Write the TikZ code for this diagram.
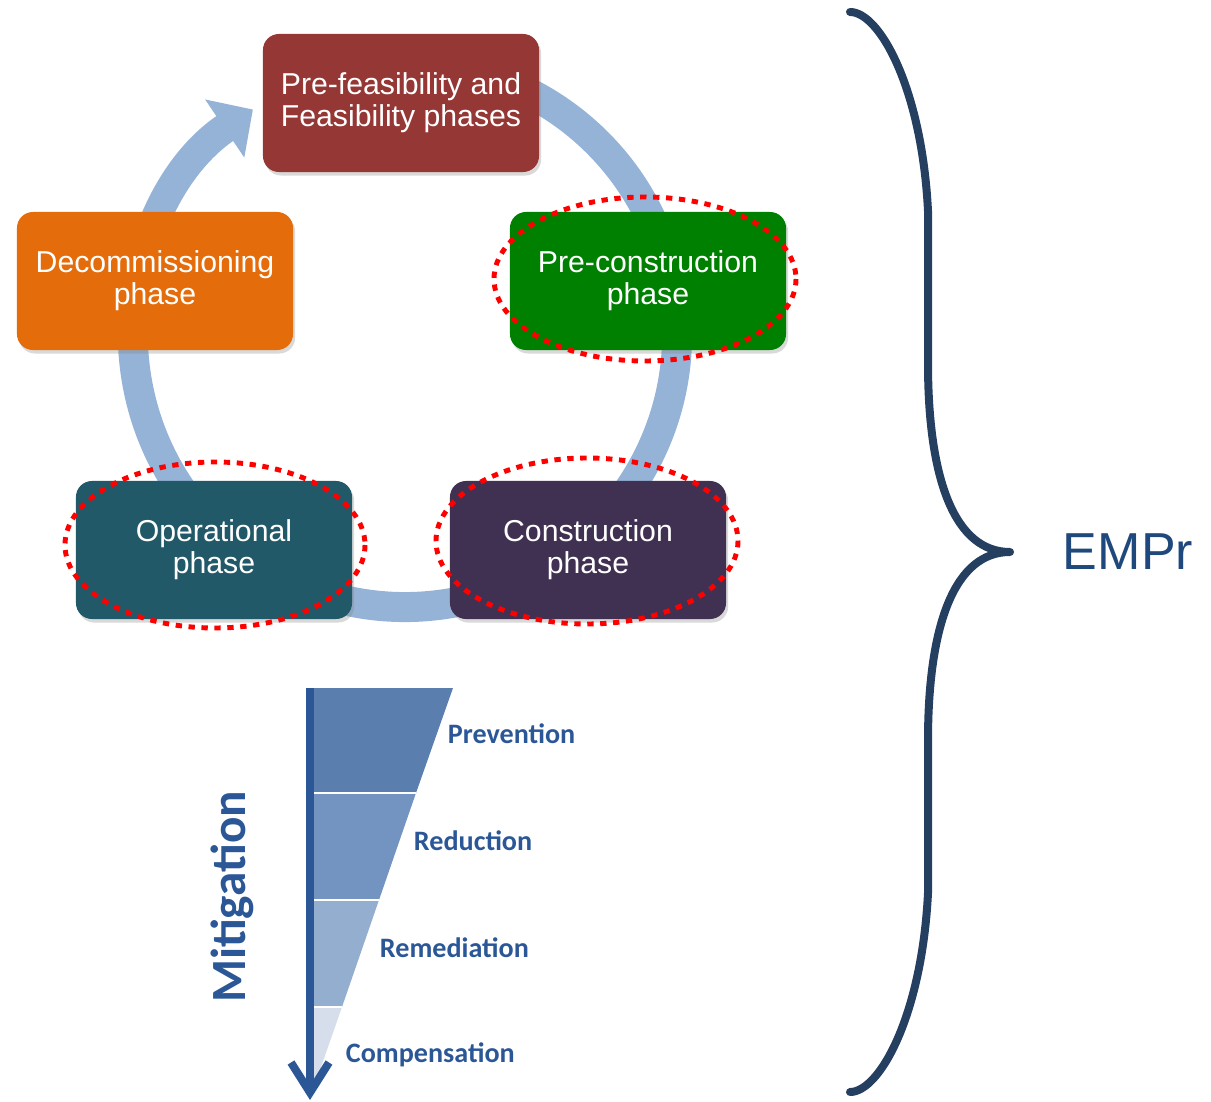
\documentclass[tikz,border=0pt]{standalone}
\usepackage{fontspec}
\setmainfont{Liberation Sans}
\newfontfamily\calibri{Carlito}
\usetikzlibrary{arrows.meta,shadows}

\definecolor{feasred}{HTML}{953735}
\definecolor{pcgreen}{HTML}{008000}
\definecolor{decorange}{HTML}{E46C0A}
\definecolor{opteal}{HTML}{215968}
\definecolor{conpurple}{HTML}{403152}
\definecolor{ringblue}{HTML}{95B3D7}
\definecolor{mitblue}{HTML}{2B5797}
\definecolor{bandA}{HTML}{5A7FAF}
\definecolor{bandB}{HTML}{7394C0}
\definecolor{bandC}{HTML}{94AED0}
\definecolor{bandD}{HTML}{D5DEEA}
\definecolor{bracenavy}{HTML}{243F60}
\definecolor{emprblue}{HTML}{1F497D}

\begin{document}
\begin{tikzpicture}[
  x=0.025cm, y=-0.025cm,
  phase/.style={rectangle, rounded corners=0.4cm, minimum width=6.9cm,
    minimum height=3.45cm, align=center, text=white,
    font=\fontsize{21.5}{22.8}\selectfont,
    drop shadow={opacity=0.3, shadow xshift=1.5pt, shadow yshift=-2.5pt}},
  redring/.style={draw=red, line width=3.5pt, dash pattern=on 4.5pt off 4.7pt},
  level/.style={anchor=west, text=mitblue, font=\calibri\bfseries\fontsize{20}{24}\selectfont},
  brace/.style={draw=bracenavy, line width=0.2cm, line cap=round, line join=round}
]

\useasboundingbox (0,0) rectangle (1211,1102);

% ==========================================================
% Ciclo de fases
% ==========================================================
\coordinate (ring) at (405,335);
\draw[ringblue, line width=0.75cm, -{Triangle[width=1.7cm,length=0.85cm]}]
  (ring) ++(255:272) arc[start angle=255, end angle=596, radius=272];

\node[phase, fill=feasred]   (feas)   at (401,103) {Pre-feasibility and\\Feasibility phases};
\node[phase, fill=pcgreen]   (precon) at (648,281) {Pre-construction\\phase};
\node[phase, fill=decorange] (decom)  at (155,281) {Decommissioning\\phase};
\node[phase, fill=opteal]    (oper)   at (214,550) {Operational\\phase};
\node[phase, fill=conpurple] (constr) at (588,550) {Construction\\phase};

% elipses pontilhadas
\draw[redring] (645,279) ellipse[x radius=151, y radius=82];
\draw[redring] (215,545) ellipse[x radius=150, y radius=83];
\draw[redring] (587,541) ellipse[x radius=151, y radius=83];

% ==========================================================
% Hierarquia de mitigacao
% ==========================================================
\fill[bandA] (312,688) -- (453,688) -- (416,793) -- (312,793) -- cycle;
\fill[bandB] (312,793) -- (416,793) -- (379,900) -- (312,900) -- cycle;
\fill[bandC] (312,900) -- (379,900) -- (342,1007) -- (312,1007) -- cycle;
\fill[bandD] (312,1007) -- (342,1007) -- (313,1090) -- (312,1090) -- cycle;
\foreach \y/\x in {793/416, 900/379, 1007/342}{
  \draw[white, line width=1.2pt] (312,\y) -- (\x,\y);
}

\coordinate (mtop) at (310,688);
\coordinate (mbot) at (310,1100);
\draw[mitblue, line width=0.2cm,
  -{Straight Barb[length=0.75cm, width=0.95cm, line width=0.2cm]}] (mtop) -- (mbot);

\node[rotate=90, text=mitblue, font=\calibri\bfseries\fontsize{35}{40}\selectfont]
  (mitig) at (232,897) {Mitigation};

\node[level] (prev) at (443,734)  {Prevention};
\node[level] (red)  at (409,841)  {Reduction};
\node[level] (rem)  at (375,948)  {Remediation};
\node[level] (comp) at (341,1055) {Compensation};

% ==========================================================
% Chave EMPr
% ==========================================================
\draw[brace] (850,12) .. controls (880,12) and (922,90) .. (928,211)
  -- (928,363) .. controls (928,480) and (955,552) .. (1010,552)
  .. controls (955,552) and (928,624) .. (928,741)
  -- (928,893) .. controls (922,1014) and (880,1092) .. (850,1092);

\node[anchor=west, text=emprblue, font=\fontsize{37}{44}\selectfont]
  (empr) at (1058,552) {EMPr};

\end{tikzpicture}
\end{document}
